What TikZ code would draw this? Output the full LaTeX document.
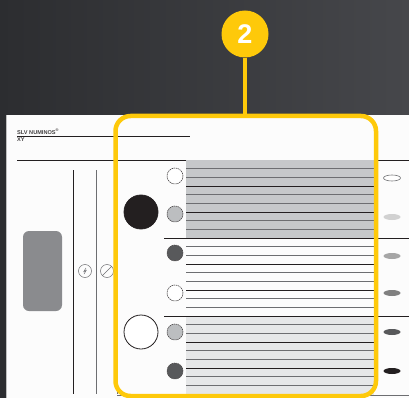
\documentclass[tikz,border=0pt]{standalone}
\usepackage{fontspec}
\setmainfont{Liberation Sans}
\usetikzlibrary{positioning,calc,shapes.geometric}

\definecolor{callyellow}{RGB}{254,201,10}
\definecolor{inkdark}{RGB}{35,31,32}
\definecolor{inkgray}{RGB}{109,110,113}
\definecolor{dotlight}{RGB}{188,190,192}
\definecolor{dotmid}{RGB}{88,89,91}
\definecolor{bandgray}{RGB}{198,200,202}
\definecolor{bandlight}{RGB}{230,231,232}
\definecolor{tabgray}{RGB}{138,139,142}
\definecolor{bgleft}{RGB}{44,45,48}
\definecolor{bgright}{RGB}{70,71,75}

\begin{document}
\begin{tikzpicture}[
    x=1pt, y=-1pt,
    callout/.style={circle, fill=callyellow, minimum size=47pt, inner sep=0pt, text=white, font=\bfseries\fontsize{27}{27}\selectfont},
    callline/.style={draw=callyellow, line width=4.5pt},
    bigdot/.style={circle, draw=inkdark, line width=0.8pt, minimum size=34pt, inner sep=0pt},
    smalldot/.style={circle, draw=inkdark!80, line width=0.6pt, dash pattern=on 1.4pt off 0.7pt, minimum size=16pt, inner sep=0pt},
    lamp/.style={ellipse, minimum width=17pt, minimum height=6pt, inner sep=0pt},
    icon/.style={circle, draw=inkgray, line width=0.5pt, minimum size=13pt, inner sep=0pt},
    darkrule/.style={draw=inkdark, line width=0.9pt},
    grayrule/.style={draw=inkgray, line width=1pt},
    stripe/.style={line width=1.2pt}
]
    % Background
    \useasboundingbox (0,0) rectangle (409,398);
    \shade[left color=bgleft, right color=bgright] (0,0) rectangle (409,398);

    % Sheet
    \fill[white!99!black] (6,115) rectangle (409,398);
    \draw[white!75!black, line width=0.8pt] (6.4,115) -- (6.4,398);

    % Title block
    \node[anchor=south west, inner sep=0pt, text=inkdark!85, font=\bfseries\fontsize{5.6}{6}\selectfont] (title) at (17,134.5) {SLV NUMINOS\textsuperscript{\textregistered}};
    \node[anchor=north west, inner sep=0pt, text=inkdark!85, font=\bfseries\fontsize{5.6}{6}\selectfont] (subtitle) at (17,137.5) {XY};
    \draw[darkrule] (17,136) -- (190,136);
    \draw[darkrule] (17,160) -- (409,160);

    % Shaded bands
    \fill[bandgray] (186,160) rectangle (374,238);
    \fill[bandlight] (186,316) rectangle (374,395);
    \foreach \band in {160,238,316}{
        \foreach \k in {1,...,8}{
            \pgfmathtruncatemacro{\isdark}{mod(\k,3)==0}
            \ifnum\isdark=1
                \draw[stripe, inkdark, line width=0.9pt] (186,\band+\k*8.67) -- (374,\band+\k*8.67);
            \else
                \draw[stripe, inkgray] (186,\band+\k*8.67) -- (374,\band+\k*8.67);
            \fi
        }
    }
    \draw[darkrule] (164,238) -- (409,238);
    \draw[darkrule] (164,316) -- (409,316);
    \draw[grayrule] (117,395) -- (409,395);

    % Left strip
    \draw[darkrule] (73,170) -- (73,394);
    \draw[grayrule] (96,170) -- (96,394);
    \draw[grayrule] (117,169) -- (117,394);
    \fill[tabgray, rounded corners=6pt] (23,231) rectangle (62,311);
    \node[icon] (bolt) at (85,271) {};
    \draw[inkgray, line width=0.5pt] ($(bolt)+(1,-3)$) -- ($(bolt)+(-1.2,0.6)$) -- ($(bolt)+(1.2,-0.6)$) -- ($(bolt)+(-1,3)$);
    \node[icon] (dia) at (107,271) {};
    \draw[inkgray, line width=0.5pt] (dia.south west) -- (dia.north east);

    % Big switches
    \node[bigdot, fill=inkdark] (swon) at (141,212) {};
    \node[bigdot, fill=white] (swoff) at (141,332) {};

    % Colour dots
    \node[smalldot, fill=white] (dotA) at (175,176) {};
    \node[smalldot, fill=dotlight] (dotB) at (175,214) {};
    \node[smalldot, fill=dotmid] (dotC) at (175,253) {};
    \node[smalldot, fill=white] (dotD) at (175,293) {};
    \node[smalldot, fill=dotlight] (dotE) at (175,332) {};
    \node[smalldot, fill=dotmid] (dotF) at (175,371) {};

    % Lamp marks
    \node[lamp, draw=inkgray, line width=0.6pt, fill=white] (lampA) at (392,178) {};
    \node[lamp, fill=black!18] (lampB) at (392,217) {};
    \node[lamp, fill=black!35] (lampC) at (392,256) {};
    \node[lamp, fill=black!50] (lampD) at (392,293) {};
    \node[lamp, fill=dotmid] (lampE) at (392,332) {};
    \node[lamp, fill=inkdark] (lampF) at (392,371) {};

    % Callout
    \draw[callline, rounded corners=15pt] (115.5,116) rectangle (376,396);
    \coordinate (frametop) at (245,116);
    \node[callout] (num) at (245,34) {2};
    \draw[callline] (num) -- (frametop);
\end{tikzpicture}
\end{document}
